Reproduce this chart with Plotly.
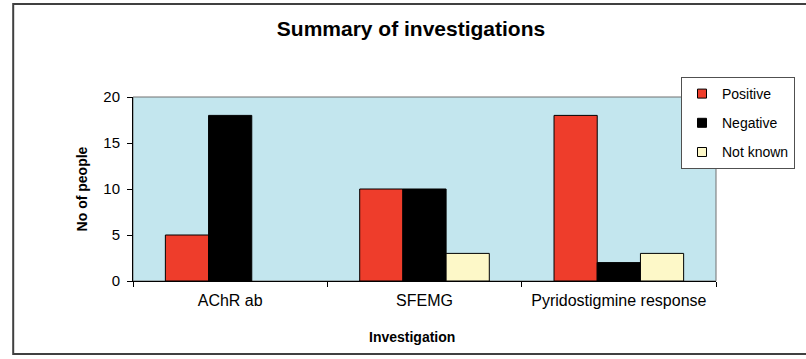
import plotly.graph_objects as go

# Investigation outcomes per test
categories = ["AChR ab", "SFEMG", "Pyridostigmine response"]
positive = [5, 10, 18]
negative = [18, 10, 2]
not_known = [None, 3, 3]

series_names = ["Positive", "Negative", "Not known"]
series_colors = ["#ee3d2b", "#000000", "#fdf8c8"]
series_values = [positive, negative, not_known]

W, H = 806, 359
ML, MR, MT, MB = 133, 89, 97, 78
PW, PH = W - ML - MR, H - MT - MB


def px_x(p):
    return (p - ML) / PW


def px_y(p):
    return (H - MB - p) / PH


font_family = "Liberation Sans, Arial, sans-serif"
outline = dict(color="#000000", width=1)

fig = go.Figure()
for name, color, vals in zip(series_names, series_colors, series_values):
    fig.add_bar(name=name, x=categories, y=vals, showlegend=False,
                legendgroup=name, marker=dict(color=color, line=outline))
# small square legend keys
for name, color in zip(series_names, series_colors):
    fig.add_scatter(name=name, x=[None], y=[None], mode="markers",
                    legendgroup=name,
                    marker=dict(symbol="square", size=9, color=color,
                                line=dict(color="#000000", width=1)))

fig.update_layout(
    width=W, height=H,
    margin=dict(l=ML, r=MR, t=MT, b=MB),
    paper_bgcolor="#ffffff",
    plot_bgcolor="#c3e6ee",
    barmode="group",
    bargap=0.333,
    bargroupgap=0,
    font=dict(family=font_family, size=13, color="#000000"),
    title=dict(text="<b>Summary of investigations</b>",
               x=411 / W, xref="container", xanchor="center",
               y=1 - 29 / H, yref="container", yanchor="middle",
               font=dict(size=21, family=font_family)),
    legend=dict(x=px_x(681), y=px_y(77), xanchor="left", yanchor="top",
                bgcolor="#ffffff", bordercolor="#505050", borderwidth=1,
                font=dict(size=14, family=font_family),
                traceorder="grouped", tracegroupgap=8, itemwidth=30),
    showlegend=True,
)

fig.update_xaxes(
    showgrid=False, showline=True, linecolor="#000000", linewidth=1,
    ticks="outside", tickson="boundaries", ticklen=5, tickcolor="#000000",
    tickfont=dict(size=16), ticklabelstandoff=5,
)
fig.update_yaxes(
    range=[0, 20], dtick=5, showgrid=False, showline=True,
    linecolor="#000000", linewidth=1, ticks="outside", ticklen=5,
    tickcolor="#000000", tickfont=dict(size=15), zeroline=False,
    ticklabelstandoff=4,
    title=dict(text="<b>No of people</b>", font=dict(size=14), standoff=12),
)

# x axis title
fig.add_annotation(text="<b>Investigation</b>", xref="paper", yref="paper",
                   x=px_x(412), y=px_y(337), xanchor="center", yanchor="middle",
                   showarrow=False, font=dict(size=14, family=font_family))

# plot area border
fig.add_shape(type="rect", xref="paper", yref="paper", x0=0, x1=1, y0=0, y1=1,
              line=dict(color="#707070", width=1), layer="below")
# outer chart frame (open on the right, running past the page edge)
xl, xr, yt, yb = px_x(13), px_x(W + 20), px_y(4), px_y(354)
fig.add_shape(type="path", xref="paper", yref="paper",
              path=f"M {xr},{yt} L {xl},{yt} L {xl},{yb} L {xr},{yb}",
              line=dict(color="#404040", width=2))

fig.write_html("out.html")
